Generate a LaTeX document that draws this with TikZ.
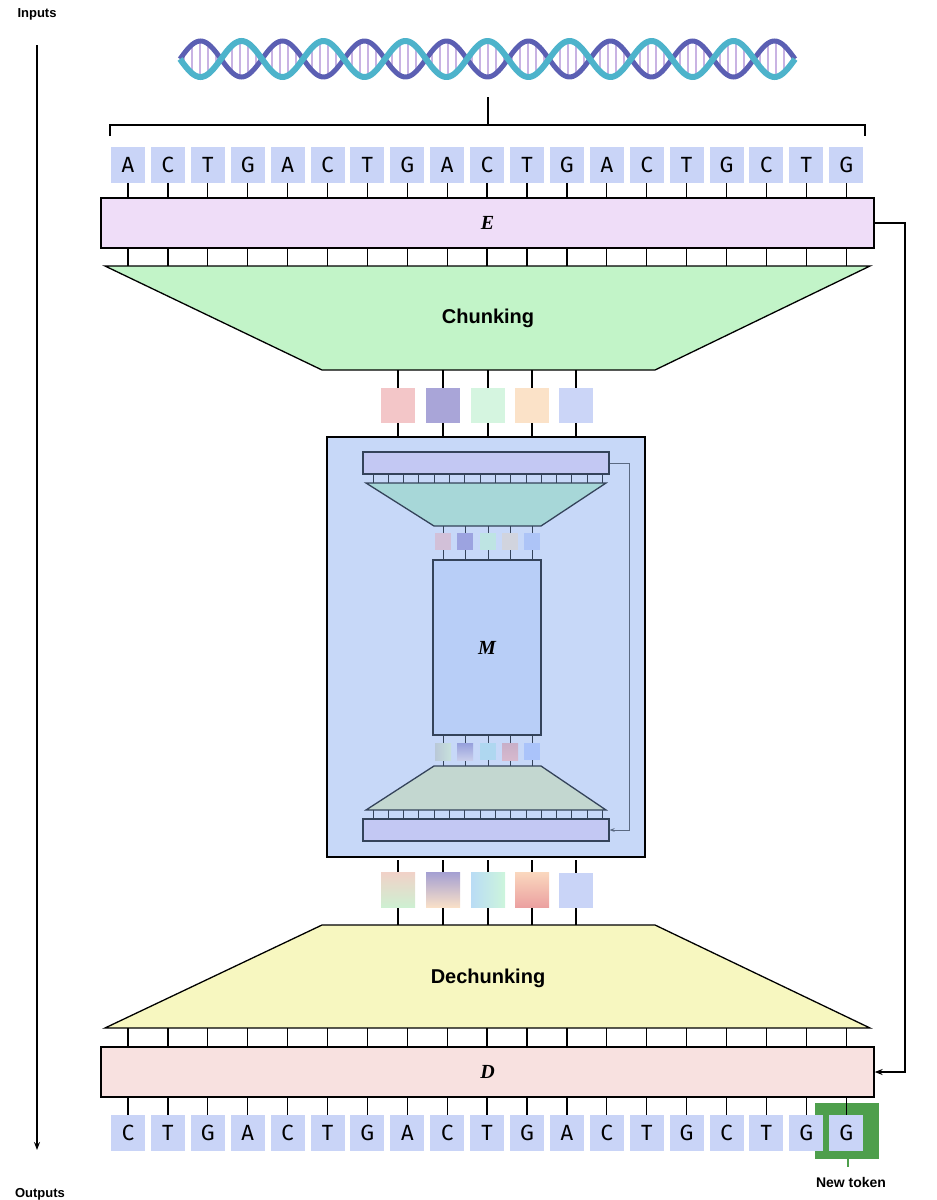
\documentclass[tikz,border=0pt]{standalone}
\usepackage{fontspec}
\setmainfont{Liberation Sans}
\newfontfamily\lettfont{Fira Sans}
\newfontfamily\serifit{Liberation Serif}
\usetikzlibrary{arrows.meta,calc}
\definecolor{tokbox}{HTML}{C9D4F7}
\definecolor{efill}{HTML}{EFDDF8}
\definecolor{chfill}{HTML}{C2F4C8}
\definecolor{dchfill}{HTML}{F7F7C0}
\definecolor{dfill}{HTML}{F8E1E0}
\definecolor{mbig}{HTML}{C7D8F8}
\definecolor{ibar}{HTML}{C3C8F3}
\definecolor{iline}{HTML}{34435A}
\definecolor{dnaA}{HTML}{4DB3CB}
\definecolor{dnaB}{HTML}{5B5FB3}
\definecolor{rung}{HTML}{C9B3E3}
\definecolor{newg}{HTML}{4E9F4C}
\tikzset{
 tok/.style={fill=tokbox,minimum width=34pt,minimum height=36pt,inner sep=0pt,font=\lettfont\fontsize{22}{22}\selectfont},
 bar/.style={draw=black,line width=1.3pt},
 tick/.style={draw=black,line width=1.3pt},
 itick/.style={draw=iline,line width=1pt},
 chk/.style={minimum width=34pt,minimum height=35pt,inner sep=0pt},
 ichk/.style={minimum width=16pt,minimum height=17pt,inner sep=0pt},
 lab/.style={font=\bfseries\fontsize{20}{20}\selectfont},
 mlab/.style={font=\serifit\bfseries\itshape\fontsize{20}{20}\selectfont}
}
\begin{document}
\begin{tikzpicture}[x=1pt,y=-1pt]
\useasboundingbox (0,0) rectangle (937,1200);
% side arrow
\node[font=\bfseries\fontsize{13}{13}\selectfont] (inp) at (37,14) {Inputs};
\node[font=\bfseries\fontsize{13}{13}\selectfont] (outp) at (40,1194) {Outputs};
\coordinate (as) at (37,45); \coordinate (ae) at (37,1150);
\draw[line width=1.3pt,-{Stealth[length=8pt]}] (as) -- (ae);
% DNA
\foreach \x in {184,192,...,792}{\draw[rung,line width=1.5pt] (\x,{59+18*sin(4.39*(\x-180))}) -- (\x,{59-18*sin(4.39*(\x-180))});}
\draw[dnaB,line width=5pt,domain=180:795,samples=300] plot (\x,{59-18*sin(4.39*(\x-180))});
\draw[dnaA,line width=6pt,domain=180:795,samples=300] plot (\x,{59+18*sin(4.39*(\x-180))});
% bracket
\coordinate (bl) at (110,136); \coordinate (br) at (865,136); \coordinate (bt) at (488,97);
\draw[line width=1.5pt] (bl) -- (110,125) -- (865,125) -- (br);
\draw[line width=1.5pt] (bt) -- (488,125);
% top tokens
\foreach \c [count=\i from 0] in {A,C,T,G,A,C,T,G,A,C,T,G,A,C,T,G,C,T,G}{
  \node[tok] (t\i) at ({128+39.9*\i},165) {\c};}
\node[draw=black,line width=1.3pt,fill=efill,minimum width=773pt,minimum height=50pt] (E) at (487.5,223) {};
\node[mlab] at (E) {E};
\foreach \i in {0,...,18}{\draw[tick] (t\i.south) -- (t\i.south |- E.north);
  \draw[tick] ({128+39.9*\i},248) -- ({128+39.9*\i},266);}
% chunking
\draw[bar,fill=chfill] (105,266) -- (870,266) -- (655,370) -- (322,370) -- cycle;
\node[lab] (ch) at (488,318) {Chunking};
% big M box
\node[draw=black,line width=1.3pt,fill=mbig,minimum width=318pt,minimum height=420pt] (MB) at (486,647) {};
% chunk boxes top
\foreach \x/\col [count=\i] in {398/F3C6C8,443/A9A5D8,488/D5F5E0,532/FBE2C8,576/CBD5F7}{
  \draw[tick] (\x,370) -- (\x,437);
  \definecolor{cc}{HTML}{\col}
  \node[chk,fill=cc] (c\i) at (\x,405) {};
  \draw[tick] (\x,860) -- (\x,925);}
% bottom chunk boxes (gradients)
\node[chk,top color={rgb,255:red,240;green,210;blue,200},bottom color={rgb,255:red,205;green,240;blue,210}] (d1) at (398,890) {};
\node[chk,top color={rgb,255:red,165;green,160;blue,210},bottom color={rgb,255:red,250;green,225;blue,200}] (d2) at (443,890) {};
\node[chk,left color={rgb,255:red,185;green,220;blue,245},right color={rgb,255:red,205;green,245;blue,220}] (d3) at (488,890) {};
\node[chk,top color={rgb,255:red,250;green,215;blue,190},bottom color={rgb,255:red,235;green,160;blue,160}] (d4) at (532,890) {};
\node[chk,fill=tokbox] (d5) at (576,890) {};
% inner top
\node[draw=iline,line width=1.2pt,fill=ibar,minimum width=246pt,minimum height=22pt,inner sep=0pt] (itop) at (486,463) {};
\foreach \k in {0,...,15}{\draw[itick] ({373+15.3*\k},474) -- ({373+15.3*\k},483);
  \draw[itick] ({373+15.3*\k},810) -- ({373+15.3*\k},819);}
\draw[draw=iline,line width=1.3pt,fill={rgb,255:red,167;green,215;blue,216}] (366,483) -- (606,483) -- (541,526) -- (434,526) -- cycle;
\node[draw=iline,line width=1.3pt,fill={rgb,255:red,184;green,206;blue,247},minimum width=108pt,minimum height=175pt,inner sep=0pt] (Mi) at (487,647.5) {};
\node[mlab] at (Mi) {M};
\foreach \x/\col [count=\i] in {443/D2C0D8,465/9CA3E0,488/BEE4E3,510/D1D4DE,532/ADC4F7}{
  \draw[itick] (\x,526) -- (\x,560);
  \definecolor{cc}{HTML}{\col}
  \node[ichk,fill=cc] (u\i) at (\x,541.5) {};
  \draw[itick] (\x,735) -- (\x,766);}
\node[ichk,left color={rgb,255:red,185;green,200;blue,215},right color={rgb,255:red,200;green,225;blue,220}] (l1) at (443,751.5) {};
\node[ichk,top color={rgb,255:red,150;green,160;blue,220},bottom color={rgb,255:red,200;green,205;blue,235}] (l2) at (465,751.5) {};
\node[ichk,fill={rgb,255:red,175;green,215;blue,240}] (l3) at (488,751.5) {};
\node[ichk,top color={rgb,255:red,200;green,175;blue,200},bottom color={rgb,255:red,215;green,185;blue,205}] (l4) at (510,751.5) {};
\node[ichk,fill={rgb,255:red,170;green,195;blue,250}] (l5) at (532,751.5) {};
\draw[draw=iline,line width=1.3pt,fill={rgb,255:red,195;green,215;blue,208}] (434,766) -- (541,766) -- (606,810) -- (366,810) -- cycle;
\node[draw=iline,line width=1.2pt,fill=ibar,minimum width=246pt,minimum height=22pt,inner sep=0pt] (ibot) at (486,830) {};
\draw[draw={rgb,255:red,90;green,105;blue,130},line width=0.9pt,-{Stealth[length=5pt]}] (itop.east) -- ++(20,0) |- (ibot.east);
% dechunking
\draw[bar,fill=dchfill] (322,925) -- (655,925) -- (870,1028) -- (105,1028) -- cycle;
\node[lab] (dch) at (488,978) {Dechunking};
\node[draw=black,line width=1.3pt,fill=dfill,minimum width=773pt,minimum height=50pt] (D) at (487.5,1072) {};
\node[mlab] at (D) {D};
% new token highlight
\node[fill=newg,minimum width=64pt,minimum height=56pt,inner sep=0pt] (hl) at (847,1131) {};
\coordinate (nt) at (848,1167);
\draw[newg,line width=1.3pt] (hl.south -| nt) -- (nt);
\node[font=\bfseries\fontsize{14}{14}\selectfont] (ntl) at (851,1182) {New token};
\foreach \c [count=\i from 0] in {C,T,G,A,C,T,G,A,C,T,G,A,C,T,G,C,T,G,G}{
  \node[tok] (b\i) at ({128+39.9*\i},1133) {\c};}
\foreach \i in {0,...,18}{\draw[tick] (b\i.north) -- (b\i.north |- D.south);
  \draw[tick] ({128+39.9*\i},1028) -- ({128+39.9*\i},1047);}
% skip connection
\draw[line width=1.3pt,-{Stealth[length=8pt]}] (E.east) -- (905,223) |- (D.east);
\end{tikzpicture}
\end{document}
